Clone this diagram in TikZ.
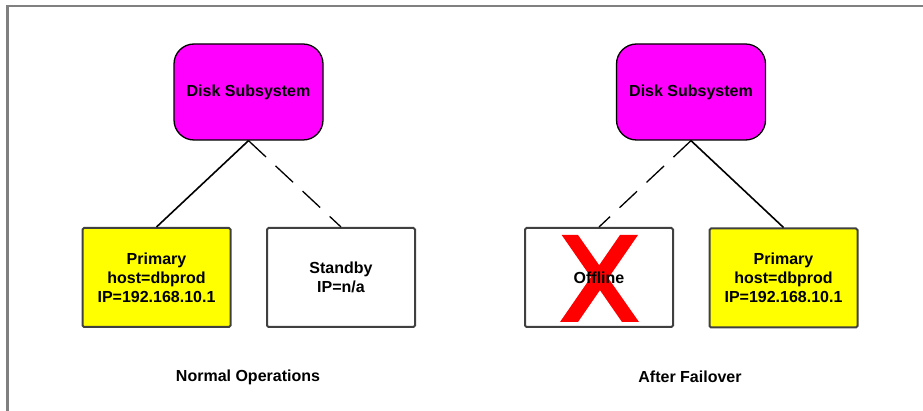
\documentclass[tikz,border=0pt]{standalone}
\usepackage{fontspec}
\setmainfont{Liberation Sans}
\usepackage{tikz}
\usetikzlibrary{positioning}
\definecolor{diskmagenta}{HTML}{FF00FF}
\definecolor{hostyellow}{HTML}{FFFF00}
\definecolor{framegray}{HTML}{808080}
\definecolor{boxgray}{HTML}{404040}
\tikzset{
    disk/.style={draw=black, line width=1.3pt, fill=diskmagenta, rounded corners=20pt,
        minimum width=149pt, minimum height=96pt, inner sep=0pt},
    hostbox/.style={draw=boxgray, line width=2pt, rounded corners=1.5pt,
        minimum width=148pt, minimum height=99pt, inner sep=0pt, align=center},
    link/.style={line width=1.6pt},
    lostlink/.style={line width=1.3pt, dash pattern=on 24pt off 13pt},
}

\begin{document}
\begin{tikzpicture}[x=1pt, y=-1pt, font=\fontsize{16}{19}\selectfont\bfseries]
            \useasboundingbox (0,0) rectangle (923,411);
            \draw[framegray, line width=2.5pt] (7.5,411) -- (7.5,6) -- (923,6);

            \node[disk] (diskA) at (248.5,92) {Disk Subsystem};
            \node[hostbox, fill=hostyellow] (primA) at (156.5,277.5) {Primary\\host=dbprod\\IP=192.168.10.1};
            \node[hostbox] (standby) at (341,277.5) {Standby\\IP=n/a};
            \node (normal) at (248,377) {Normal Operations};

            \draw[link] (diskA.south) -- (primA.north);
            \draw[lostlink] (diskA.south) -- (standby.north);

            \node[disk] (diskB) at (691,92) {Disk Subsystem};
            \fill[red] (561.7,235) -- (578,235) -- (639,322) -- (622,322) -- cycle;
            \fill[red] (620,235) -- (638,235) -- (578,322) -- (560,322) -- cycle;
            \node[hostbox] (offline) at (599,277.5) {Offline};
            \node[hostbox, fill=hostyellow] (primB) at (783.5,278) {Primary\\host=dbprod\\IP=192.168.10.1};
            \node (failover) at (690,377) {After Failover};

            \draw[lostlink] (diskB.south) -- (offline.north);
            \draw[link] (diskB.south) -- (primB.north);
        \end{tikzpicture}
\end{document}
